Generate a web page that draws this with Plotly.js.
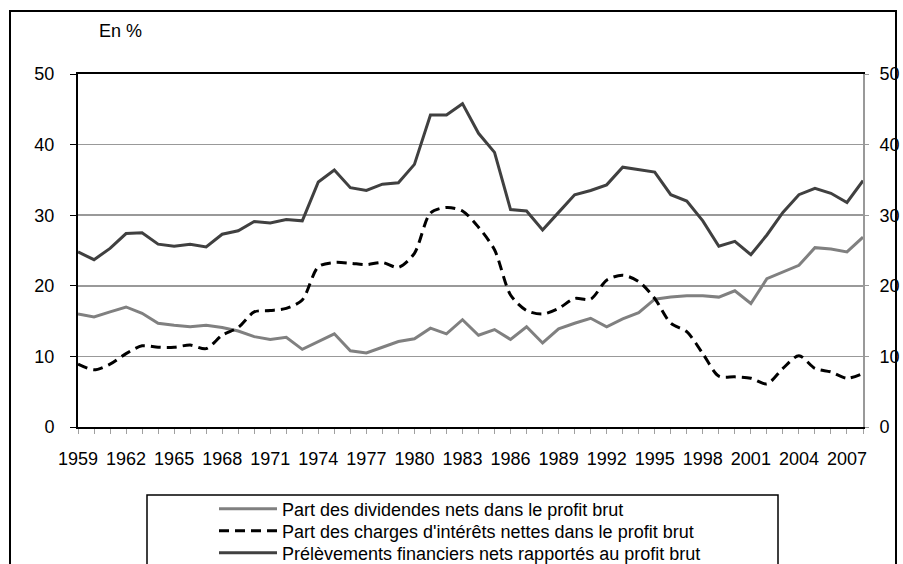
<!DOCTYPE html>
<html>
<head>
<meta charset="utf-8">
<script src="https://cdn.plot.ly/plotly-3.0.1.min.js"></script>
<style>
html,body{margin:0;padding:0;background:#fff;}
#chart{width:903px;height:564px;}
</style>
</head>
<body>
<div id="chart"></div>
<script>
const years = [1959,1960,1961,1962,1963,1964,1965,1966,1967,1968,1969,1970,1971,1972,1973,1974,1975,1976,1977,1978,1979,1980,1981,1982,1983,1984,1985,1986,1987,1988,1989,1990,1991,1992,1993,1994,1995,1996,1997,1998,1999,2000,2001,2002,2003,2004,2005,2006,2007,2008];

const tickLabels = ['1959','','','1962','','','1965','','','1968','','','1971','','','1974','','','1977','','','1980','','','1983','','','1986','','','1989','','','1992','','','1995','','','1998','','','2001','','','2004','','','2007',''];

const dividendes = [16.0,15.6,16.3,17.0,16.1,14.7,14.4,14.2,14.4,14.1,13.6,12.8,12.4,12.7,11.0,12.1,13.2,10.8,10.5,11.3,12.1,12.5,14.0,13.2,15.2,13.0,13.8,12.4,14.2,11.9,13.9,14.7,15.4,14.2,15.3,16.2,18.1,18.4,18.6,18.6,18.4,19.3,17.5,21.0,22.0,22.9,25.4,25.2,24.8,26.9];

const interets = [8.9,8.1,8.9,10.4,11.5,11.3,11.3,11.6,11.1,13.0,14.1,16.3,16.5,16.8,18.0,22.7,23.3,23.2,23.0,23.3,22.6,24.6,30.3,31.1,30.6,28.3,25.1,18.7,16.5,16.0,16.8,18.2,18.1,20.8,21.5,20.6,18.2,14.7,13.5,10.4,7.2,7.1,6.9,6.1,8.3,10.1,8.3,7.8,6.9,7.6];

const prelevements = [24.8,23.7,25.3,27.4,27.5,25.9,25.6,25.9,25.5,27.3,27.8,29.1,28.9,29.4,29.2,34.7,36.4,33.9,33.5,34.4,34.6,37.2,44.2,44.2,45.8,41.6,38.9,30.8,30.6,27.9,30.4,32.9,33.5,34.3,36.8,36.4,36.1,32.9,32.0,29.2,25.6,26.3,24.4,27.2,30.4,32.9,33.8,33.1,31.8,34.9];

const seriesNames = [
  'Part des dividendes nets dans le profit brut',
  "Part des charges d'intérêts nettes dans le profit brut",
  'Prélèvements financiers nets rapportés au profit brut'
];

const FONT = 'Liberation Sans, Arial, sans-serif';

const traces = [
  {x: years, y: dividendes, name: seriesNames[0], type: 'scatter', mode: 'lines',
   line: {color: '#808080', width: 3}, yaxis: 'y', legend: 'legend'},
  {x: years, y: interets, name: seriesNames[1], type: 'scatter', mode: 'lines',
   line: {color: '#000000', width: 3, dash: '10px,6px', shape: 'spline', smoothing: 0.8}, yaxis: 'y', legend: 'legend2'},
  {x: years, y: prelevements, name: seriesNames[2], type: 'scatter', mode: 'lines',
   line: {color: '#404040', width: 3}, yaxis: 'y2', legend: 'legend3'}
];

// pixel helpers for paper coordinates (plot area 78..863 x, 74..427 y)
const L = 78, R = 863, T = 74, B = 427;
const px = v => (v - L) / (R - L);
const py = v => (B - v) / (B - T);

function legendAt(rowY) {
  return {
    x: px(214), y: py(rowY), xanchor: 'left', yanchor: 'middle',
    bgcolor: 'rgba(0,0,0,0)', borderwidth: 0, itemwidth: 58,
    font: {family: FONT, size: 18, color: '#000000'}
  };
}

const layout = {
  width: 903, height: 564,
  margin: {l: L, r: 903 - R, t: T, b: 564 - B, autoexpand: false},
  paper_bgcolor: '#ffffff', plot_bgcolor: '#ffffff',
  font: {family: FONT, size: 18, color: '#000000'},
  showlegend: true,
  xaxis: {
    range: [1959, 2008], tickmode: 'array', tickvals: years, ticktext: tickLabels,
    ticks: 'outside', ticklen: 5, tickcolor: '#a0a0a0', tickwidth: 1,
    showline: true, linecolor: '#000000', linewidth: 2, mirror: true,
    showgrid: false, zeroline: false, ticklabelstandoff: 9,
    tickfont: {family: FONT, size: 18, color: '#000000'}, fixedrange: true
  },
  yaxis: {
    range: [0, 50], dtick: 10, tick0: 0,
    ticks: 'outside', ticklen: 6, tickcolor: '#000000', tickwidth: 1,
    showline: true, linecolor: '#000000', linewidth: 2,
    showgrid: true, gridcolor: '#999999', gridwidth: 1.5, zeroline: false,
    ticklabelstandoff: 12,
    tickfont: {family: FONT, size: 18, color: '#000000'}, fixedrange: true
  },
  yaxis2: {
    range: [0, 50], dtick: 10, tick0: 0, overlaying: 'y', side: 'right', anchor: 'x',
    ticks: 'outside', ticklen: 4, tickcolor: '#999999', tickwidth: 1,
    showline: true, linecolor: '#999999', linewidth: 2,
    showgrid: false, zeroline: false, ticklabelstandoff: 7,
    tickfont: {family: FONT, size: 18, color: '#000000'}, fixedrange: true
  },
  legend: legendAt(509),
  legend2: legendAt(531),
  legend3: legendAt(553),
  annotations: [
    {text: 'En %', xref: 'paper', yref: 'paper', x: px(97), y: py(31),
     xanchor: 'left', yanchor: 'middle', showarrow: false,
     font: {family: FONT, size: 18, color: '#000000'}}
  ],
  shapes: [
    {type: 'rect', xref: 'paper', yref: 'paper', x0: px(10), x1: px(896), y0: py(700), y1: py(11),
     line: {color: '#000000', width: 2}, fillcolor: 'rgba(0,0,0,0)', layer: 'below'},
    {type: 'rect', xref: 'paper', yref: 'paper', x0: px(147), x1: px(778), y0: py(700), y1: py(495),
     line: {color: '#000000', width: 1.5}, fillcolor: 'rgba(0,0,0,0)', layer: 'above'}
  ]
};

Plotly.newPlot('chart', traces, layout, {displayModeBar: false, staticPlot: true});
</script>
</body>
</html>
